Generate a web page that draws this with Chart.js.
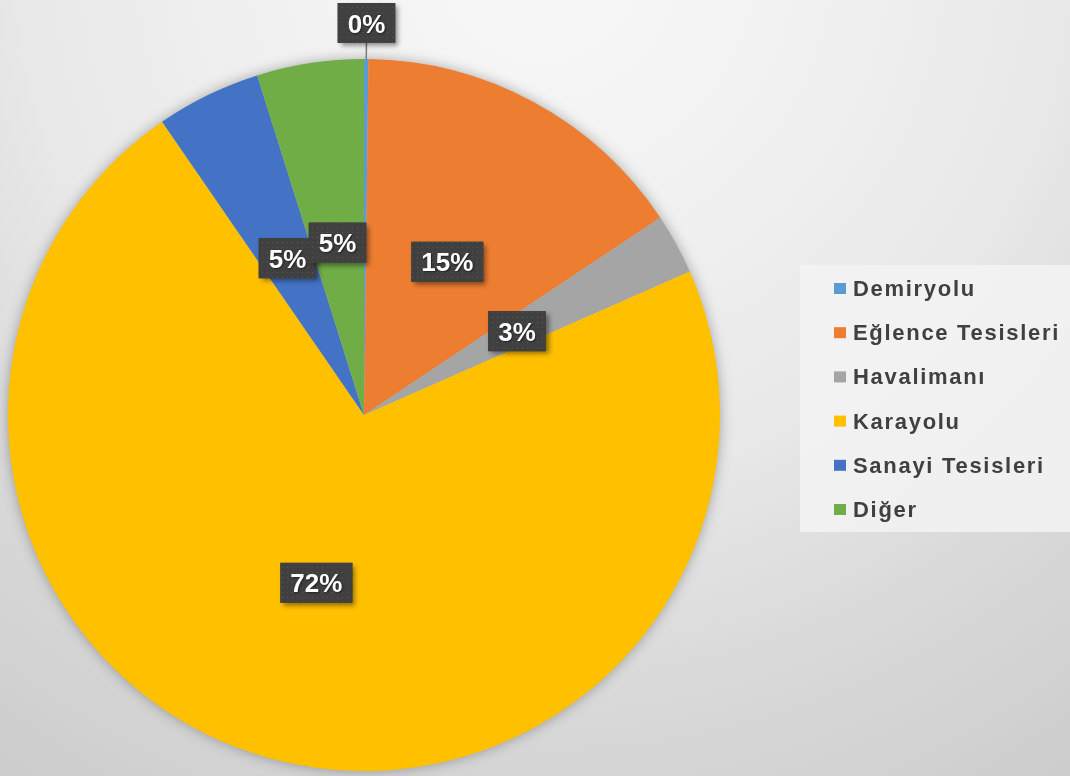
<!DOCTYPE html>
<html>
<head>
<meta charset="utf-8">
<script src="https://cdn.jsdelivr.net/npm/chart.js@4.4.1/dist/chart.umd.min.js"></script>
<style>
  html, body { margin: 0; padding: 0; }
  body {
    width: 1070px; height: 776px; overflow: hidden;
    background: radial-gradient(circle at 540px -40px, #f8f8f8 0px, #f0f0f0 300px, #e8e8e8 520px, #dadada 720px, #cccccc 980px, #c8c8c8 1200px);
  }
  canvas { display: block; }
</style>
</head>
<body>
<canvas id="c" width="1070" height="776"></canvas>
<script>
// ---- data ----
const categories = ['Demiryolu', 'Eğlence Tesisleri', 'Havalimanı', 'Karayolu', 'Sanayi Tesisleri', 'Diğer'];
const shares = [0.2, 15.45, 2.75, 72.0, 4.75, 4.85];
const sliceColors = ['#5B9BD5', '#ED7D31', '#A5A5A5', '#FFC000', '#4472C4', '#70AD47'];

const FONT = '"Liberation Sans", Arial, sans-serif';

function makePattern(ctx) {
  const pc = document.createElement('canvas');
  pc.width = 5; pc.height = 5;
  const p = pc.getContext('2d');
  p.fillStyle = '#404040';
  p.fillRect(0, 0, 5, 5);
  p.fillStyle = '#565656';
  p.fillRect(2, 2, 1, 1);
  return ctx.createPattern(pc, 'repeat');
}

const pieShadow = {
  id: 'pieShadow',
  beforeDatasetsDraw(chart) {
    const meta = chart.getDatasetMeta(0);
    const a = meta.data[0];
    if (!a) return;
    const ctx = chart.ctx;
    ctx.save();
    ctx.shadowColor = 'rgba(0,0,0,0.35)';
    ctx.shadowBlur = 14;
    ctx.fillStyle = '#c0c0c0';
    ctx.beginPath();
    ctx.arc(a.x, a.y, a.outerRadius - 1, 0, Math.PI * 2);
    ctx.fill();
    ctx.restore();
  }
};

function drawLabelBox(ctx, pattern, cx, cy, text) {
  ctx.save();
  ctx.font = 'bold 26px ' + FONT;
  const tw = ctx.measureText(text).width;
  const w = tw + 20, h = 40;
  const x = cx - w / 2, y = cy - h / 2;
  ctx.shadowColor = 'rgba(0,0,0,0.45)';
  ctx.shadowBlur = 5;
  ctx.shadowOffsetX = 3;
  ctx.shadowOffsetY = 3;
  ctx.fillStyle = '#404040';
  ctx.fillRect(x, y, w, h);
  ctx.shadowColor = 'transparent';
  ctx.fillStyle = pattern;
  ctx.fillRect(x, y, w, h);
  ctx.shadowColor = 'rgba(0,0,0,0.5)';
  ctx.shadowBlur = 2;
  ctx.shadowOffsetX = 1;
  ctx.shadowOffsetY = 1;
  ctx.fillStyle = '#ffffff';
  ctx.textAlign = 'center';
  ctx.textBaseline = 'alphabetic';
  ctx.fillText(text, cx, cy + 9.5);
  ctx.restore();
  return {x, y, w, h};
}

const pctLabels = {
  id: 'pctLabels',
  afterDatasetsDraw(chart) {
    const ctx = chart.ctx;
    const pattern = makePattern(ctx);
    const meta = chart.getDatasetMeta(0);
    const data = chart.data.datasets[0].data;
    const total = data.reduce((s, v) => s + v, 0);
    meta.data.forEach((arc, i) => {
      const {x, y, startAngle, endAngle, outerRadius} = arc.getProps(['x', 'y', 'startAngle', 'endAngle', 'outerRadius'], true);
      const mid = (startAngle + endAngle) / 2;
      const pct = data[i] / total * 100;
      const text = Math.round(pct) + '%';
      if (pct < 1) {
        const ex = x + Math.cos(mid) * outerRadius;
        const ey = y + Math.sin(mid) * outerRadius;
        const bx = x + Math.cos(mid) * (outerRadius + 36);
        const by = y + Math.sin(mid) * (outerRadius + 36);
        ctx.save();
        ctx.strokeStyle = '#7a7a7a';
        ctx.lineWidth = 1.5;
        ctx.beginPath();
        ctx.moveTo(bx, by + 20);
        ctx.lineTo(ex, ey);
        ctx.stroke();
        ctx.restore();
        drawLabelBox(ctx, pattern, bx, by, text);
      } else {
        const r = outerRadius * 0.49;
        drawLabelBox(ctx, pattern, x + Math.cos(mid) * r, y + Math.sin(mid) * r, text);
      }
    });
  }
};

const sideLegend = {
  id: 'sideLegend',
  afterDraw(chart) {
    const ctx = chart.ctx;
    const labels = chart.data.labels;
    const cols = chart.data.datasets[0].backgroundColor;
    ctx.save();
    ctx.fillStyle = 'rgba(243,243,243,0.85)';
    ctx.fillRect(800, 265, 270, 267);
    ctx.font = 'bold 22px ' + FONT;
    if ('letterSpacing' in ctx) ctx.letterSpacing = '1.7px';
    ctx.textBaseline = 'alphabetic';
    ctx.textAlign = 'left';
    labels.forEach((lab, i) => {
      const base = 296 + i * 44.2;
      ctx.fillStyle = cols[i];
      ctx.fillRect(834, base - 13, 12, 11);
      ctx.fillStyle = '#404040';
      ctx.fillText(lab, 853, base);
    });
    ctx.restore();
  }
};

new Chart(document.getElementById('c'), {
  type: 'pie',
  data: {
    labels: categories,
    datasets: [{
      data: shares,
      backgroundColor: sliceColors,
      borderWidth: 0
    }]
  },
  options: {
    responsive: false,
    animation: false,
    layout: { padding: { top: 59, bottom: 5, left: 8, right: 350 } },
    plugins: {
      legend: { display: false },
      tooltip: { enabled: false }
    }
  },
  plugins: [pieShadow, pctLabels, sideLegend]
});
</script>
</body>
</html>
